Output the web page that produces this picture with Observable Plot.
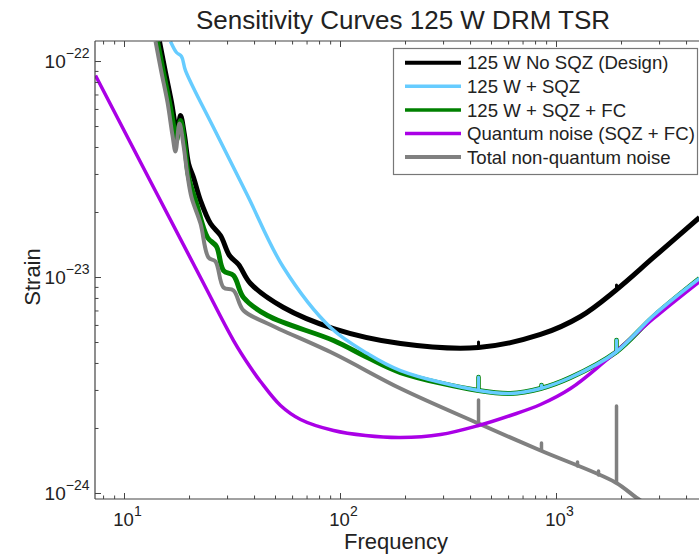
<!DOCTYPE html>
<html><head><meta charset="utf-8">
<script src="https://cdn.jsdelivr.net/npm/d3@7"></script>
<script src="https://cdn.jsdelivr.net/npm/@observablehq/plot@0.6"></script>
<style>body{margin:0;background:#fff}</style>
</head><body><div id="chart"></div>
<script>
// ---- data (frequency in Hz, strain in 1/sqrt(Hz)) ----
const titleText = "Sensitivity Curves 125 W DRM TSR";
const xLabel = "Frequency";
const yLabel = "Strain";
const seriesNames = ["125 W No SQZ (Design)", "125 W + SQZ", "125 W + SQZ + FC", "Quantum noise (SQZ + FC)", "Total non-quantum noise"];
const seriesColors = ["#000000", "#66ccff", "#008000", "#aa00e6", "#808080"];

const noSqzF = [14.52, 15.48, 16.51, 17.22, 17.60, 18.17, 18.96, 19.79, 20.87, 22.48, 25.01, 27.83, 30.63, 33.73, 38.31, 54.47, 92.82, 189.6, 435.5, 843.4, 1292, 1876, 2812, 4592];
const noSqzS = [1.238e-22, 8.894e-23, 6.459e-23, 5.054e-23, 4.793e-23, 5.623e-23, 4.543e-23, 3.372e-23, 2.904e-23, 2.272e-23, 1.778e-23, 1.565e-23, 1.264e-23, 1.149e-23, 9.380e-24, 7.262e-24, 5.805e-24, 4.948e-24, 4.742e-24, 5.447e-24, 6.599e-24, 8.707e-24, 1.238e-23, 1.896e-23];

const sqzF = [16.33, 17.41, 18.36, 19.16, 25.82, 37.11, 54.47, 89.90, 133.4, 189.6, 435.5, 612.4, 843.4, 1161, 1876, 2812, 4592];
const sqzS = [1.238e-22, 1.101e-22, 1.055e-22, 9.085e-23, 4.948e-23, 2.397e-23, 1.112e-23, 5.867e-24, 4.446e-24, 3.710e-24, 2.998e-24, 2.904e-24, 3.062e-24, 3.443e-24, 4.496e-24, 6.668e-24, 9.894e-24];

const sqzFcF = [14.21, 15.15, 16.16, 17.04, 17.41, 18.17, 18.96, 19.79, 21.54, 24.23, 26.66, 28.73, 31.97, 35.56, 45.92, 92.82, 133.4, 189.6, 435.5, 612.4, 843.4, 1161, 1876, 2812, 4592];
const sqzFcS = [1.238e-22, 8.894e-23, 6.459e-23, 4.793e-23, 4.307e-23, 5.331e-23, 4.217e-23, 2.934e-23, 2.201e-23, 1.532e-23, 1.392e-23, 1.077e-23, 1.022e-23, 8.080e-24, 6.668e-24, 5.109e-24, 4.261e-24, 3.632e-24, 2.998e-24, 2.904e-24, 3.062e-24, 3.443e-24, 4.496e-24, 6.599e-24, 9.894e-24];

const quantumF = [7.34, 22.48, 31.97, 38.31, 42.62, 52.76, 65.28, 92.82, 130.5, 189.6, 290.4, 435.5, 612.4, 843.4, 1161, 1651, 2812, 4592];
const quantumS = [8.614e-23, 1.0e-23, 5.109e-24, 3.831e-24, 3.300e-24, 2.555e-24, 2.201e-24, 1.957e-24, 1.855e-24, 1.816e-24, 1.875e-24, 2.064e-24, 2.297e-24, 2.582e-24, 3.062e-24, 4.042e-24, 6.459e-24, 9.583e-24];

const nonQuantumF = [13.92, 14.83, 15.82, 16.68, 17.22, 17.97, 18.76, 19.58, 20.43, 22.48, 24.48, 26.38, 28.73, 31.97, 35.56, 45.92, 92.82, 189.6, 435.5, 843.4, 1876, 2448, 3373];
const nonQuantumS = [1.238e-22, 8.894e-23, 6.459e-23, 4.543e-23, 3.831e-23, 5.164e-23, 4.084e-23, 2.966e-23, 2.346e-23, 1.778e-23, 1.238e-23, 1.186e-23, 8.990e-24, 8.707e-24, 7.034e-24, 6.123e-24, 4.446e-24, 3.062e-24, 2.109e-24, 1.581e-24, 1.125e-24, 9.28e-25, 7.906e-25];

// narrow spectral lines
const graySpikeF = [435.5, 852, 1251, 1565, 1896];
const graySpikeBase = [2.109e-24, 1.581e-24, 1.334e-24, 1.212e-24, 1.12e-24];
const graySpikeTop = [2.695e-24, 1.704e-24, 1.392e-24, 1.264e-24, 2.528e-24];
const sqzSpikeF = [435.5, 852, 1896];
const sqzSpikeBase = [2.998e-24, 3.062e-24, 4.5e-24];
const sqzSpikeTop = [3.443e-24, 3.162e-24, 5.109e-24];
const noSqzSpikeF = [435.5, 1896];
const noSqzSpikeBase = [4.742e-24, 8.707e-24];
const noSqzSpikeTop = [5.002e-24, 9.183e-24];

// axes
const xDomain = [7.34, 4592];
const yDomain = [9.38e-25, 1.238e-22];
const xMajor = [10, 100, 1000];
const xMinor = [8, 9, 20, 30, 40, 50, 60, 70, 80, 90, 200, 300, 400, 500, 600, 700, 800, 900, 2000, 3000, 4000];
const yMajor = [1e-24, 1e-23, 1e-22];
const yMinor = [2e-24, 3e-24, 4e-24, 5e-24, 6e-24, 7e-24, 8e-24, 9e-24, 2e-23, 3e-23, 4e-23, 5e-23, 6e-23, 7e-23, 8e-23, 9e-23];

// ---- layout ----
const W = 699, H = 554, mL = 95, mR = 0, mT = 41, mB = 55;
const pw = W - mL - mR, ph = H - mT - mB;
const FONT = "'Liberation Sans', Arial, Helvetica, sans-serif";
const axisColor = "#444";

const toRows = (F, S) => F.map((f, i) => ({f, s: S[i]}));
const spikeRows = (F, B, T) => F.map((f, i) => ({f, b: B[i], t: T[i]}));
const line = (F, S, color, w) => Plot.line(toRows(F, S), {x: "f", y: "s", stroke: color, strokeWidth: w, curve: "catmull-rom", clip: true, strokeLinejoin: "round", strokeLinecap: "butt"});
const spikes = (F, B, T, color, w) => Plot.ruleX(spikeRows(F, B, T), {x: "f", y1: "b", y2: "t", stroke: color, strokeWidth: w, clip: true, strokeLinecap: "round"});

const widths = [5, 3.5, 5, 3.5, 4];
const legendWidths = [4, 3.5, 3.5, 3.5, 4];

const chart = Plot.plot({
  width: W, height: H,
  marginLeft: mL, marginRight: mR, marginTop: mT, marginBottom: mB,
  style: {fontFamily: FONT, background: "#fff", color: "#222", overflow: "visible"},
  x: {type: "log", domain: xDomain},
  y: {type: "log", domain: yDomain},
  marks: [
    line(noSqzF, noSqzS, seriesColors[0], widths[0]),
    spikes(noSqzSpikeF, noSqzSpikeBase, noSqzSpikeTop, seriesColors[0], 3),
    line(sqzFcF, sqzFcS, seriesColors[2], widths[2]),
    spikes(sqzSpikeF, sqzSpikeBase, sqzSpikeTop, seriesColors[2], 4.5),
    line(nonQuantumF, nonQuantumS, seriesColors[4], widths[4]),
    spikes(graySpikeF, graySpikeBase, graySpikeTop, seriesColors[4], 3.5),
    line(quantumF, quantumS, seriesColors[3], widths[3]),
    line(sqzF, sqzS, seriesColors[1], widths[1]),
    spikes(sqzSpikeF, sqzSpikeBase, sqzSpikeTop, seriesColors[1], 3),
    Plot.tickX(xMajor, {x: d => d, insetTop: ph - 6, stroke: axisColor}),
    Plot.tickX(xMinor, {x: d => d, insetTop: ph - 3.5, stroke: axisColor}),
    Plot.tickX(xMajor, {x: d => d, insetBottom: ph - 6, stroke: axisColor}),
    Plot.tickX(xMinor, {x: d => d, insetBottom: ph - 3.5, stroke: axisColor}),
    Plot.tickY(yMajor, {y: d => d, insetRight: pw - 6, stroke: axisColor}),
    Plot.tickY(yMinor, {y: d => d, insetRight: pw - 3.5, stroke: axisColor}),
    Plot.axisX({ticks: xMajor, tickSize: 0, tickPadding: 13, fontSize: 18.5, dx: 3, label: null,
      tickFormat: d => "10|" + Math.round(Math.log10(d))}),
    Plot.axisY({ticks: yMajor, tickSize: 0, tickPadding: 6, fontSize: 19, label: null,
      tickFormat: d => "10|" + String(Math.round(Math.log10(d))).replace("-", "\u2212")})
  ]
});

document.getElementById("chart").appendChild(chart);
const svg = d3.select(chart);

svg.selectAll('g[aria-label="x-axis tick label"] text, g[aria-label="y-axis tick label"] text').each(function () {
  const t = d3.select(this);
  const parts = t.text().split("|");
  if (parts.length < 2) return;
  t.text(null);
  t.append("tspan").text(parts[0]);
  t.append("tspan").attr("dy", -10).attr("font-size", 14).text(parts[1]);
});
svg.selectAll('g[aria-label="x-axis tick label"] text, g[aria-label="y-axis tick label"] text').attr("fill", "#222");

const ax = svg.append("g").attr("stroke", axisColor).attr("stroke-width", 1.2).attr("fill", "none");
ax.append("line").attr("x1", mL).attr("x2", mL).attr("y1", mT).attr("y2", H - mB);
ax.append("line").attr("x1", mL).attr("x2", W).attr("y1", mT).attr("y2", mT);
ax.append("line").attr("x1", mL).attr("x2", W).attr("y1", H - mB).attr("y2", H - mB);

svg.append("text").attr("x", 403).attr("y", 29).attr("text-anchor", "middle")
  .attr("font-size", 26).attr("fill", "#222").attr("font-family", FONT).text(titleText);
svg.append("text").attr("x", 396).attr("y", 548.5).attr("text-anchor", "middle")
  .attr("font-size", 22).attr("fill", "#222").attr("font-family", FONT).text(xLabel);
svg.append("text").attr("transform", "translate(40,277) rotate(-90)").attr("text-anchor", "middle")
  .attr("font-size", 22).attr("fill", "#222").attr("font-family", FONT).text(yLabel);

const lg = svg.append("g").attr("font-family", FONT).attr("text-anchor", "start");
lg.append("rect").attr("x", 393.5).attr("y", 48.5).attr("width", 304).attr("height", 126)
  .attr("fill", "#fff").attr("stroke", "#777").attr("stroke-width", 1.2);
seriesNames.forEach((name, i) => {
  const y = 62.7 + i * 23.6;
  lg.append("line").attr("x1", 405).attr("x2", 461).attr("y1", y).attr("y2", y)
    .attr("stroke", seriesColors[i]).attr("stroke-width", legendWidths[i]);
  lg.append("text").attr("x", 467).attr("y", y).attr("dy", "0.36em").attr("text-anchor", "start")
    .attr("font-size", 18.6).attr("fill", "#222").text(name);
});
</script>
</body></html>
